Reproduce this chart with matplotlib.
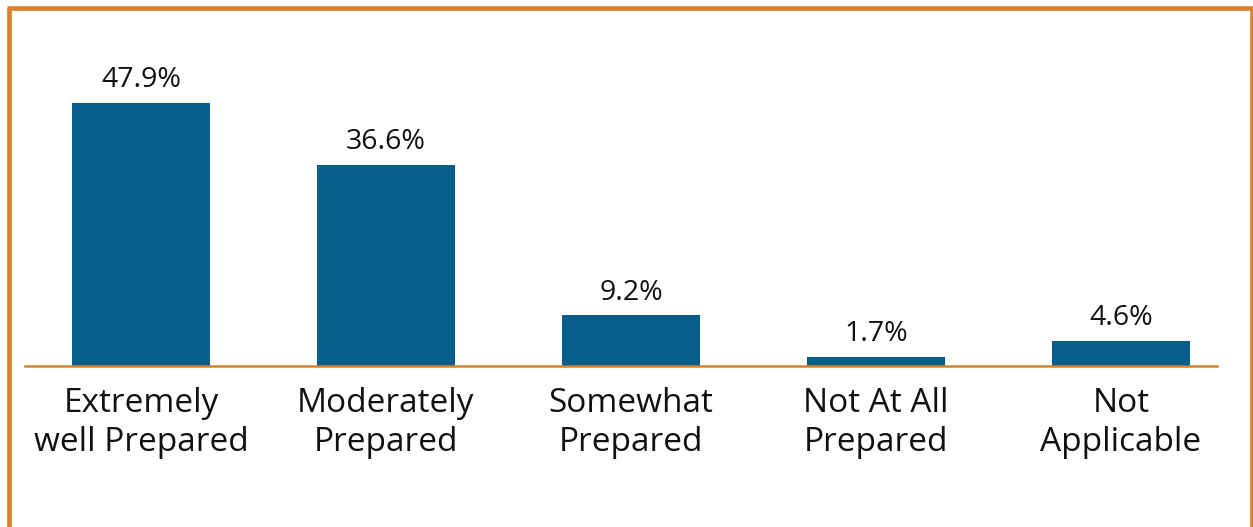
import matplotlib.pyplot as plt
from matplotlib.lines import Line2D

categories = ["Extremely\nwell Prepared", "Moderately\nPrepared", "Somewhat\nPrepared",
              "Not At All\nPrepared", "Not\nApplicable"]
values = [47.9, 36.6, 9.2, 1.7, 4.6]
value_labels = ["47.9%", "36.6%", "9.2%", "1.7%", "4.6%"]

BAR = '#085E8A'
ORANGE = '#D9822B'
TEXT = '#111111'

plt.rcParams['font.family'] = ['Open Sans', 'DejaVu Sans']

W, H = 1253, 527
fig = plt.figure(figsize=(W / 100, H / 100), dpi=100)
ax = fig.add_axes([25 / W, (H - 366) / H, (1217 - 25) / W, (366 - 20) / H])

x = list(range(len(values)))
ax.bar(x, values, width=0.563, color=BAR, zorder=2)
# baseline sits on the axes edge, so don't let it get clipped in half
ax.axhline(0, color=ORANGE, lw=1.8, zorder=3, clip_on=False)

for xi, v, lab in zip(x, values, value_labels):
    ax.annotate(lab, (xi, v), xytext=(0, 11.5), textcoords='offset points',
                ha='center', va='baseline', fontsize=20.5, color=TEXT)

ax.set_xlim(-0.4735, 4.392)
ax.set_ylim(0, 63.0)
ax.set_xticks(x)
ax.set_xticklabels(categories, fontsize=24, color=TEXT, linespacing=1.24)
ax.tick_params(axis='x', length=0, pad=15)
ax.set_yticks([])
for s in ax.spines.values():
    s.set_visible(False)

# orange frame (left, top, right)
def px(xp, yp):
    return xp / W, 1 - yp / H

for (x0, y0), (x1, y1) in [((9, H + 5), (9, 7.5)), ((7, 7.5), (1253, 7.5)), ((1251.5, 7.5), (1251.5, H + 5))]:
    a, b = px(x0, y0)
    c, d = px(x1, y1)
    fig.add_artist(Line2D([a, c], [b, d], color=ORANGE, lw=3.4, transform=fig.transFigure,
                          solid_capstyle='butt'))

fig.savefig('out.png', dpi=100)
